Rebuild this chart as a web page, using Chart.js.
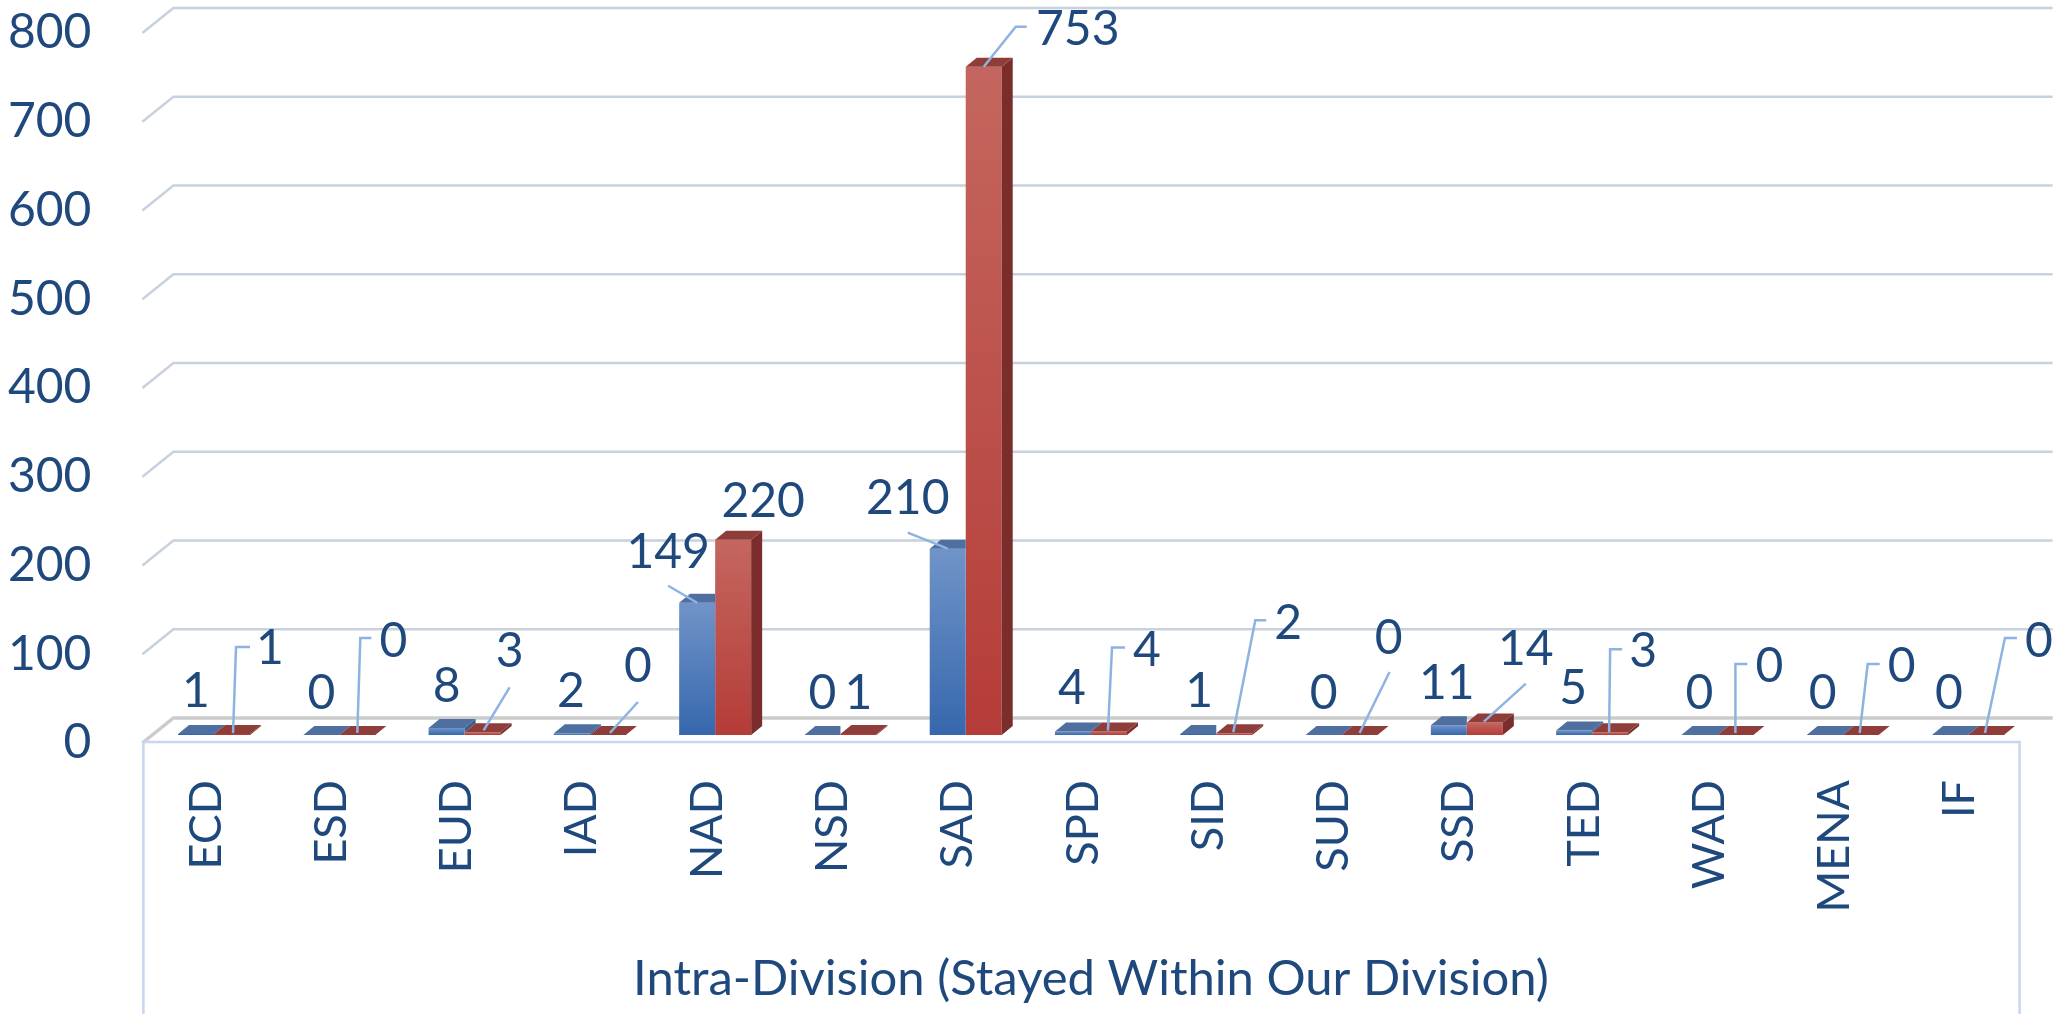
<!DOCTYPE html>
<html>
<head>
<meta charset="utf-8">
<title>Intra-Division</title>
<script src="https://cdn.jsdelivr.net/npm/chart.js@4.4.1/dist/chart.umd.min.js"></script>
<style>
  html, body { margin: 0; padding: 0; background: #ffffff; }
  #wrap { width: 2060px; height: 1014px; position: relative; }
</style>
</head>
<body>
<div id="wrap"><canvas id="divisionChart"></canvas></div>
<script>
// --- Chart data ---
const categories = ['ECD', 'ESD', 'EUD', 'IAD', 'NAD', 'NSD', 'SAD', 'SPD', 'SID', 'SUD', 'SSD', 'TED', 'WAD', 'MENA', 'IF'];
const blueValues = [1, 0, 8, 2, 149, 0, 210, 4, 1, 0, 11, 5, 0, 0, 0];
const redValues = [1, 0, 3, 0, 220, 1, 753, 4, 2, 0, 14, 3, 0, 0, 0];
const yTicks = [0, 100, 200, 300, 400, 500, 600, 700, 800];
const axisTitle = 'Intra-Division (Stayed Within Our Division)';

// --- Data label placement (offset from the top centre of each bar) ---
const blueLabelPos = [[0, -44], [0, -43], [0, -43], [-1, -43], [-29, -52], [0, -43], [-40, -52], [-1, -44],
    [1, -44], [0, -43], [-2, -43], [-1, -44], [0, -43], [-2, -43], [-1, -43]];
const blueLeaders = [null, null, null, null, [[0, 0], [-29, -17]], null, [[0, 0], [-40, -16]],
    null, null, null, null, null, null, null, null];
const redLabelPos = [[38, -87], [36, -95], [27, -82], [30, -70], [30, -40], [0, -42], [94, -39], [38, -82],
    [54, -111], [29, -98], [41, -75], [33, -82], [34, -70], [41, -70], [53, -95]];
const redLeaders = [
    [[1, -1], [4, -87], [18, -87]],
    [[0, -2], [3, -97], [14, -97]],
    [[1, -2], [27, -45]],
    [[2, -2], [30, -33]],
    null,
    null,
    [[0, 0], [32, -40], [43, -40]],
    [[-1, -1], [3, -84], [16, -84]],
    [[-1, -1], [21, -113], [32, -113]],
    [[0, -2], [30, -63]],
    [[-1, -1], [41, -39]],
    [[-1, 0], [0, -83], [12, -83]],
    [[0, -2], [0, -71], [12, -71]],
    [[-1, -2], [7, -71], [19, -71]],
    [[-1, -2], [19, -97], [31, -97]]
];

// --- Styles ---
const TEXT_COLOR = '#1f497d';
const LEADER_COLOR = '#8db3e2';
const GRID_COLOR = '#c8d1de';
const FONT = 'Lato';
const DEPTH_X = 11, DEPTH_Y = -9;          // bar depth
const WALL_DX = 31, FLOOR_FRONT = 8, FLOOR_BACK = -17; // wall / floor depth

const colors = {
    blue: { top: '#7094c9', bottom: '#3667ad', cap: '#4e6f9f', side: '#3a5d8f' },
    red: { top: '#c4665f', bottom: '#b53c38', cap: '#8f3d39', side: '#7a2d2a' }
};

// --- Helper Functions ---

function frontGradient(context, c) {
    const chart = context.chart;
    if (!chart.chartArea || context.type !== 'data') return c.bottom;
    const y = chart.scales.y;
    const top = y.getPixelForValue(context.raw);
    const base = y.getPixelForValue(0);
    if (base - top < 1) return c.bottom;
    const g = chart.ctx.createLinearGradient(0, top, 0, base);
    g.addColorStop(0, c.top);
    g.addColorStop(1, c.bottom);
    return g;
}

function fillPoly(ctx, pts, color) {
    ctx.fillStyle = color;
    ctx.beginPath();
    ctx.moveTo(pts[0][0], pts[0][1]);
    for (let k = 1; k < pts.length; k++) ctx.lineTo(pts[k][0], pts[k][1]);
    ctx.closePath();
    ctx.fill();
}

function drawLeader(ctx, bar, pts) {
    if (!pts) return;
    ctx.strokeStyle = LEADER_COLOR;
    ctx.lineWidth = 2.5;
    ctx.beginPath();
    pts.forEach((p, k) => {
        const px = bar.x + p[0], py = bar.y + p[1];
        if (k === 0) ctx.moveTo(px, py); else ctx.lineTo(px, py);
    });
    ctx.stroke();
}

function drawValue(ctx, bar, value, off) {
    ctx.fillStyle = TEXT_COLOR;
    ctx.font = `48px ${FONT}`;
    ctx.textAlign = 'center';
    ctx.textBaseline = 'alphabetic';
    ctx.fillText(String(value), bar.x + off[0], bar.y + off[1] + 17);
}

// Chart.js adds tick padding to the scale's edge padding; we place everything by hand
function clearScalePadding(s) {
    s.paddingTop = 0;
    s.paddingBottom = 0;
    s.paddingLeft = 0;
    s.paddingRight = 0;
}

// --- 3D plugin: walls, floor, bar caps and data labels ---
const chart3d = {
    id: 'chart3d',
    beforeDatasetsDraw(chart) {
        const { ctx, chartArea, scales: { y } } = chart;
        const wallLeft = chartArea.left - 9;
        const wallRight = chartArea.right + 22;
        const boxRight = chartArea.right - 11;
        ctx.save();
        yTicks.forEach(v => {
            const py = y.getPixelForValue(v);
            ctx.strokeStyle = v === 0 ? '#cbcbcb' : GRID_COLOR;
            ctx.lineWidth = v === 0 ? 3.5 : 2.5;
            ctx.beginPath();
            ctx.moveTo(wallLeft, py + FLOOR_FRONT);
            ctx.lineTo(wallLeft + WALL_DX, py + FLOOR_BACK);
            ctx.lineTo(wallRight, py + FLOOR_BACK);
            ctx.stroke();
        });
        // category box below the floor
        const floorY = y.getPixelForValue(0) + FLOOR_FRONT - 1;
        ctx.strokeStyle = '#c6d7ee';
        ctx.lineWidth = 2.5;
        ctx.beginPath();
        ctx.moveTo(wallLeft + 1, chart.height + 2);
        ctx.lineTo(wallLeft + 1, floorY);
        ctx.lineTo(boxRight, floorY);
        ctx.lineTo(boxRight, chart.height + 2);
        ctx.stroke();
        ctx.restore();
    },
    afterDatasetsDraw(chart) {
        const { ctx } = chart;
        const blueMeta = chart.getDatasetMeta(0);
        const redMeta = chart.getDatasetMeta(1);
        ctx.save();
        categories.forEach((cat, i) => {
            const b = blueMeta.data[i].getProps(['x', 'y', 'base', 'width'], true);
            const r = redMeta.data[i].getProps(['x', 'y', 'base', 'width'], true);
            const bl = b.x - b.width / 2, br = b.x + b.width / 2;
            const rl = r.x - r.width / 2, rr = r.x + r.width / 2;

            // blue cap, hidden behind a taller red bar
            ctx.save();
            if (r.y < b.y) {
                ctx.beginPath();
                ctx.rect(0, 0, br, chart.height);
                ctx.clip();
            }
            fillPoly(ctx, [[bl, b.y], [br, b.y], [br + DEPTH_X, b.y + DEPTH_Y], [bl + DEPTH_X, b.y + DEPTH_Y]], colors.blue.cap);
            ctx.restore();
            // blue side, only where it rises above the red bar
            if (b.y < r.y) {
                fillPoly(ctx, [[br, b.y], [br + DEPTH_X, b.y + DEPTH_Y], [br + DEPTH_X, r.y + DEPTH_Y], [br, r.y]], colors.blue.side);
            }
            // red side and cap
            fillPoly(ctx, [[rr, r.y], [rr + DEPTH_X, r.y + DEPTH_Y], [rr + DEPTH_X, r.base + DEPTH_Y], [rr, r.base]], colors.red.side);
            fillPoly(ctx, [[rl, r.y], [rr, r.y], [rr + DEPTH_X, r.y + DEPTH_Y], [rl + DEPTH_X, r.y + DEPTH_Y]], colors.red.cap);
        });

        // data labels with leader lines
        categories.forEach((cat, i) => {
            const b = blueMeta.data[i].getProps(['x', 'y'], true);
            const r = redMeta.data[i].getProps(['x', 'y'], true);
            drawLeader(ctx, b, blueLeaders[i]);
            drawLeader(ctx, r, redLeaders[i]);
            drawValue(ctx, b, blueValues[i], blueLabelPos[i]);
            drawValue(ctx, r, redValues[i], redLabelPos[i]);
        });
        ctx.restore();
    }
};

// --- Chart ---
const chartCtx = document.getElementById('divisionChart').getContext('2d');
const divisionChart = new Chart(chartCtx, {
    type: 'bar',
    data: {
        labels: categories,
        datasets: [
            {
                label: 'Series1',
                data: blueValues,
                backgroundColor: ctx => frontGradient(ctx, colors.blue),
                borderWidth: 0
            },
            {
                label: 'Series2',
                data: redValues,
                backgroundColor: ctx => frontGradient(ctx, colors.red),
                borderWidth: 0
            }
        ]
    },
    options: {
        responsive: true,
        maintainAspectRatio: false,
        animation: false,
        layout: { autoPadding: false, padding: { top: 25, right: 29.4, left: 0, bottom: 0 } },
        datasets: { bar: { categoryPercentage: 0.5747, barPercentage: 1 } },
        plugins: {
            legend: { display: false },
            tooltip: { enabled: false }
        },
        scales: {
            x: {
                grid: { display: false, drawTicks: false },
                border: { display: false },
                ticks: {
                    color: TEXT_COLOR,
                    font: { family: FONT, size: 45, lineHeight: 1 },
                    minRotation: 90,
                    maxRotation: 90,
                    autoSkip: false,
                    padding: 45,
                    labelOffset: -8
                },
                title: {
                    display: true,
                    text: axisTitle,
                    color: TEXT_COLOR,
                    font: { family: FONT, size: 49, lineHeight: 1 },
                    padding: { top: 0, bottom: 10 }
                },
                afterFit: s => { s.height = 279; clearScalePadding(s); }
            },
            y: {
                min: 0,
                max: 800,
                grid: { display: false, drawTicks: false },
                border: { display: false },
                ticks: {
                    stepSize: 100,
                    color: TEXT_COLOR,
                    font: { family: FONT, size: 48, lineHeight: 1 },
                    padding: 60,
                    labelOffset: 8,
                    callback: v => yTicks.includes(v) ? String(v) : ''
                },
                afterFit: s => { s.width = 151.4; clearScalePadding(s); }
            }
        }
    },
    plugins: [chart3d]
});
</script>
</body>
</html>
